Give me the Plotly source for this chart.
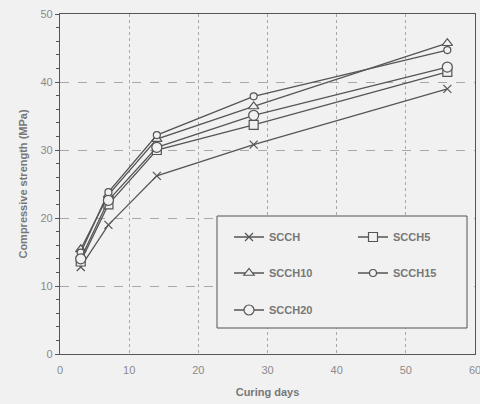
import plotly.graph_objects as go

days = [3, 7, 14, 28, 56]
scch = [12.8, 19.0, 26.2, 30.8, 39.0]
scch5 = [13.6, 22.0, 30.0, 33.7, 41.5]
scch10 = [15.4, 23.4, 31.6, 36.4, 45.7]
scch15 = [14.9, 23.8, 32.2, 37.9, 44.7]
scch20 = [14.0, 22.6, 30.4, 35.1, 42.2]
x_ticks = [0, 10, 20, 30, 40, 50, 60]

names = ["SCCH", "SCCH5", "SCCH10", "SCCH15", "SCCH20"]
series = [scch, scch5, scch10, scch15, scch20]
symbols = ["x-thin-open", "square", "triangle-up", "circle", "circle"]
sizes = [8, 9, 9, 7, 10]
legend_ids = ["legend", "legend2", "legend3", "legend4", "legend5"]

bg = "#f1f1f1"
ink = "#555555"
txt = "#777777"

W, H = 480, 404
L, R, T, B = 60, 5, 14, 50
pw, ph = W - L - R, H - T - B


def px_x(p):
    return (p - L) / pw


def px_y(p):
    return (H - B - p) / ph


fig = go.Figure()
for n, s, sym, sz, lg in zip(names, series, symbols, sizes, legend_ids):
    fig.add_trace(go.Scatter(
        x=days, y=s, name="<b>" + n + "</b>", mode="lines+markers", legend=lg,
        line=dict(color=ink, width=1.3),
        marker=dict(symbol=sym, size=sz, color=bg if "x-thin" not in sym else ink,
                    line=dict(color=ink, width=1.2)),
    ))

leg_font = dict(size=11, color=txt, family="Liberation Sans, Arial")
col_left = [229, 353]
row_y = [237, 273, 310]
positions = [(0, 0), (1, 0), (0, 1), (1, 1), (0, 2)]
layout_legends = {}
for lg, (c, r) in zip(legend_ids, positions):
    layout_legends[lg] = dict(
        x=px_x(col_left[c]), y=px_y(row_y[r]), xanchor="left", yanchor="middle",
        bgcolor="rgba(0,0,0,0)", borderwidth=0, font=leg_font,
    )

fig.update_layout(
    width=W, height=H,
    margin=dict(l=L, r=R, t=T, b=B),
    paper_bgcolor=bg, plot_bgcolor=bg,
    font=dict(family="Liberation Sans, Arial", size=11, color=txt),
    showlegend=True,
    **layout_legends,
    shapes=[dict(
        type="rect", xref="paper", yref="paper",
        x0=px_x(217), x1=px_x(467), y0=px_y(328), y1=px_y(216),
        line=dict(color=ink, width=1), fillcolor=bg, layer="above",
    )],
)
fig.update_xaxes(
    range=[0, 60], tickmode="array", tickvals=x_ticks, showline=True, linecolor=ink,
    linewidth=1.3, mirror=True, automargin=False, ticklabeloverflow="allow",
    showgrid=True, gridcolor="#a8a8a8", griddash="dot", gridwidth=1,
    ticks="outside", ticklen=6, tickcolor=bg, zeroline=False,
    tickfont=dict(color="#8a8a8a", size=11),
    title=dict(text="<b>Curing days</b>", font=dict(size=11, color=txt), standoff=12),
)
fig.update_yaxes(
    range=[0, 50], dtick=10, showline=True, linecolor=ink, linewidth=1.3, mirror=True,
    showgrid=True, gridcolor="#a8a8a8", griddash="dash", gridwidth=1,
    ticks="outside", ticklen=4, tickcolor=ink, zeroline=False,
    tickfont=dict(color="#8a8a8a", size=11),
    minor=dict(dtick=2, ticks="outside", ticklen=3, tickcolor=ink, showgrid=False),
    title=dict(text="<b>Compressive strength (MPa)</b>", font=dict(size=11, color=txt), standoff=10),
)
fig.write_html("out.html")
